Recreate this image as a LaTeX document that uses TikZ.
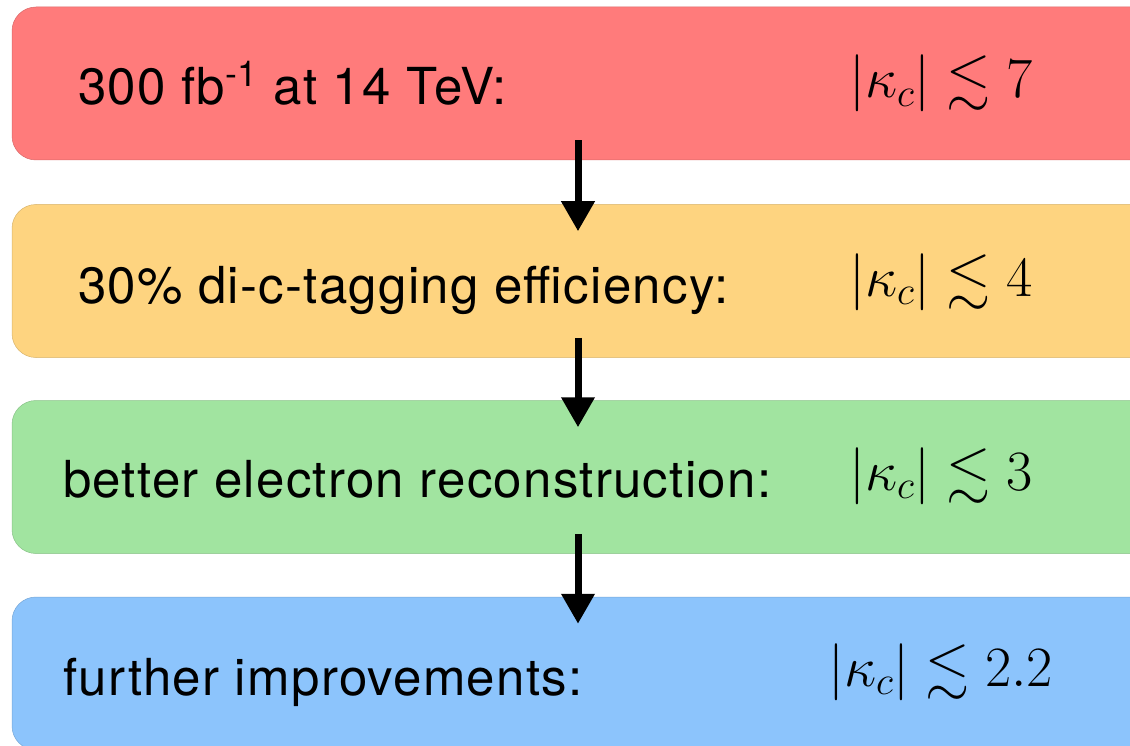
\RequirePackage{fix-cm}
\documentclass[tikz,border=0pt]{standalone}
\usepackage{amssymb}
\usepackage[no-math]{fontspec}
\setmainfont[LetterSpace=2.5]{TeX Gyre Heros}
\usetikzlibrary{arrows.meta,calc}

\definecolor{redbox}{RGB}{255,123,123}
\definecolor{orangebox}{RGB}{254,212,128}
\definecolor{greenbox}{RGB}{161,228,160}
\definecolor{bluebox}{RGB}{140,196,252}

\tikzset{
  stagebox/.style={rectangle, rounded corners=24pt, minimum width=1150pt,
    minimum height=153pt, inner sep=0pt, fill=#1, draw=#1!85!black, line width=0.5pt},
  desc/.style={anchor=base west, inner sep=0pt, font=\fontsize{51}{60}\selectfont},
  bound/.style={anchor=base west, inner sep=0pt, font=\fontsize{57}{64}\selectfont},
  flow/.style={line width=7pt, -{Triangle[width=32pt,length=30pt]}},
}

\begin{document}
\begin{tikzpicture}[x=1pt,y=-1pt]
  \useasboundingbox (0,0) rectangle (1130,746);
  \clip (0,0) rectangle (1130,746);

  % stage boxes
  \node[stagebox=redbox]    (r1) at (587,83.5)  {};
  \node[stagebox=orangebox] (r2) at (587,281)   {};
  \node[stagebox=greenbox]  (r3) at (587,477)   {};
  \node[stagebox=bluebox]   (r4) at (587,673.5) {};

  % descriptions
  \node[desc] (t1) at (78,105) {300 fb\textsuperscript{-1} at 14 TeV:};
  \node[desc] (t2) at (78,303) {30\% di-c-tagging efficiency:};
  \node[desc] (t3) at (63,497) {better electron reconstruction:};
  \node[desc] (t4) at (63,695) {further improvements:};

  % bounds
  \node[bound] (b1) at (849,98)  {$|\kappa_c| \lesssim 7$};
  \node[bound] (b2) at (849,296) {$|\kappa_c| \lesssim 4$};
  \node[bound] (b3) at (849,490) {$|\kappa_c| \lesssim 3$};
  \node[bound] (b4) at (828,686) {$|\kappa_c| \lesssim 2.2$};

  % arrows between stages
  \coordinate (ax) at (578,0);
  \draw[flow] ([yshift=20pt]r1.south -| ax) -- ([yshift=-27pt]r2.north -| ax);
  \draw[flow] ([yshift=20pt]r2.south -| ax) -- ([yshift=-27pt]r3.north -| ax);
  \draw[flow] ([yshift=20pt]r3.south -| ax) -- ([yshift=-27pt]r4.north -| ax);
\end{tikzpicture}
\end{document}
